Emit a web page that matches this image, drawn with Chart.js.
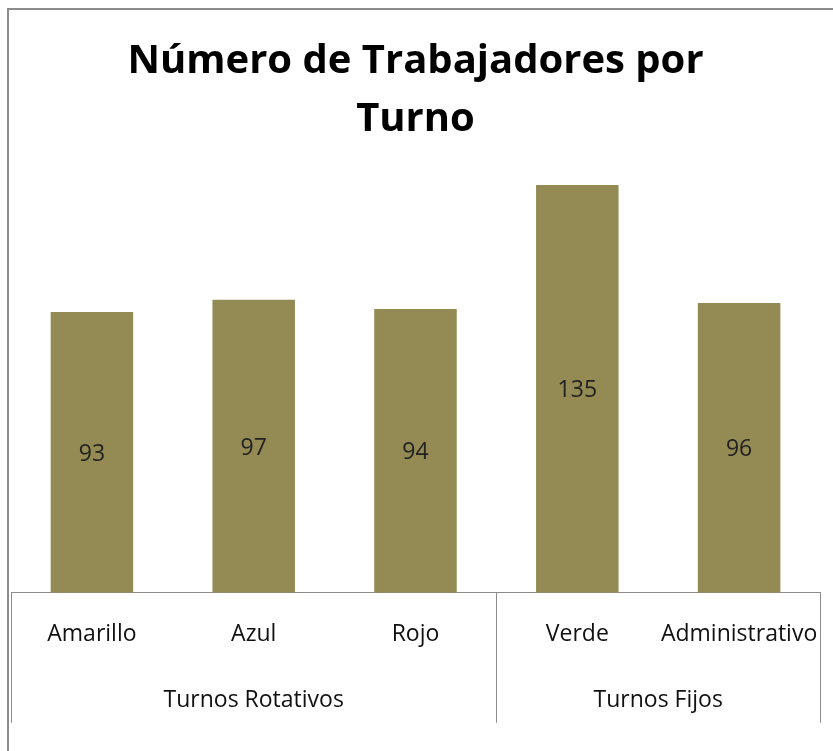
<!DOCTYPE html>
<html>
<head>
<meta charset="utf-8">
<script src="https://cdn.jsdelivr.net/npm/chart.js@4"></script>
<style>
  html, body { margin: 0; padding: 0; background: #fff; }
  #marco { position: absolute; left: 7px; top: 8px; width: 900px; height: 800px; border: 2px solid #8c8c8c; box-sizing: border-box; }
  #wrap { position: absolute; left: 0; top: 0; width: 833px; height: 751px; }
</style>
</head>
<body>
<div id="marco"></div>
<div id="wrap"><canvas id="turnosChart"></canvas></div>
<script>
const turnos = ['Amarillo', 'Azul', 'Rojo', 'Verde', 'Administrativo'];
const trabajadores = [93, 97, 94, 135, 96];
const grupos = ['Turnos Rotativos', 'Turnos Fijos'];
const grupoCentros = [1, 3.5];       // posición de cada grupo en índices de categoría
const grupoLimites = [-0.5, 2.5, 4.5]; // separadores entre grupos

const fuente = "'Open Sans', Lato, sans-serif";

// etiquetas de valor dentro de cada barra
const etiquetasBarras = {
    id: 'etiquetasBarras',
    afterDatasetsDraw(chart) {
        const ctx = chart.ctx;
        const meta = chart.getDatasetMeta(0);
        ctx.save();
        ctx.font = '23px ' + fuente;
        ctx.fillStyle = '#222';
        ctx.textAlign = 'center';
        ctx.textBaseline = 'middle';
        meta.data.forEach((bar, i) => {
            ctx.fillText(String(trabajadores[i]), bar.x, (bar.y + bar.base) / 2 + 2);
        });
        ctx.restore();
    }
};

// lineas verticales que separan los grupos bajo el eje
const separadores = {
    id: 'separadores',
    afterDraw(chart) {
        const ctx = chart.ctx;
        const sx = chart.scales.x2;
        const top = chart.chartArea.bottom;
        ctx.save();
        ctx.strokeStyle = '#8c8c8c';
        ctx.lineWidth = 1;
        grupoLimites.forEach(v => {
            const px = Math.round(sx.getPixelForValue(v)) + 0.5;
            ctx.beginPath();
            ctx.moveTo(px, top);
            ctx.lineTo(px, top + 130);
            ctx.stroke();
        });
        ctx.restore();
    }
};

// sin relleno lateral extra por las etiquetas
const sinRellenoLateral = (scale) => {
    scale.paddingLeft = 0;
    scale.paddingRight = 0;
};

new Chart(document.getElementById('turnosChart'), {
    type: 'bar',
    data: {
        labels: turnos,
        datasets: [{
            label: 'Trabajadores',
            data: trabajadores,
            backgroundColor: '#948A54',
            borderWidth: 0,
            categoryPercentage: 1,
            barPercentage: 0.51
        }]
    },
    options: {
        responsive: true,
        maintainAspectRatio: false,
        animation: false,
        layout: { padding: { left: 11, right: 13, top: 0, bottom: 27 } },
        scales: {
            y: {
                display: false,
                min: 0,
                max: 140
            },
            x: {
                position: 'bottom',
                grid: { display: false, drawTicks: false },
                border: { display: true, color: '#8c8c8c', width: 1 },
                afterFit: sinRellenoLateral,
                ticks: {
                    padding: 28,
                    color: '#111',
                    font: { family: fuente, size: 23 },
                    maxRotation: 0,
                    autoSkip: false
                }
            },
            x2: {
                type: 'linear',
                position: 'bottom',
                offset: false,
                min: -0.5,
                max: 4.5,
                grid: { display: false, drawTicks: false },
                border: { display: false },
                afterFit: sinRellenoLateral,
                afterBuildTicks: (scale) => {
                    scale.ticks = grupoCentros.map(v => ({ value: v }));
                },
                ticks: {
                    padding: 10,
                    color: '#111',
                    font: { family: fuente, size: 23 },
                    maxRotation: 0,
                    autoSkip: false,
                    callback: (value) => grupos[grupoCentros.indexOf(value)]
                }
            }
        },
        plugins: {
            legend: { display: false },
            tooltip: { enabled: false },
            title: {
                display: true,
                text: ['Número de Trabajadores por', 'Turno'],
                color: '#000',
                font: { family: fuente, size: 40, weight: 'bold', lineHeight: 1.45 },
                padding: { top: 33, bottom: 21 }
            }
        }
    },
    plugins: [etiquetasBarras, separadores]
});
</script>
</body>
</html>
